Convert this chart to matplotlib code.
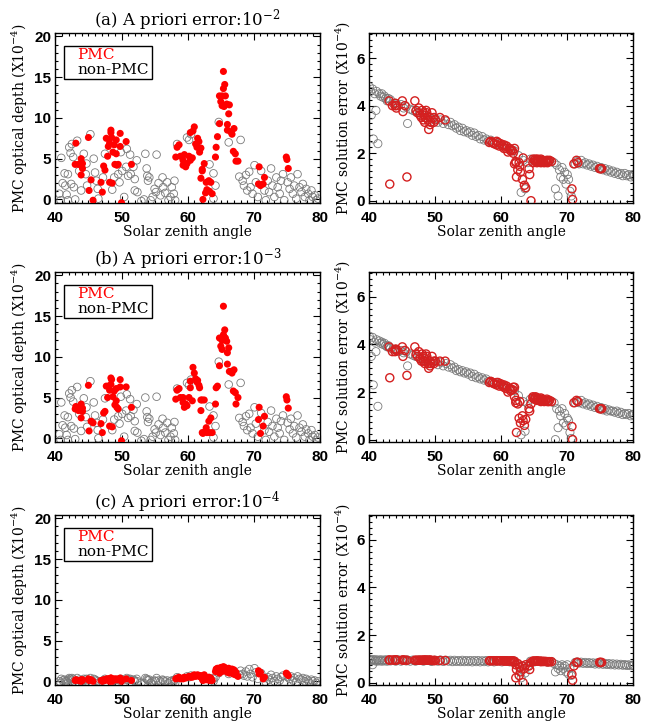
import numpy as np
import matplotlib
matplotlib.use('Agg')
import matplotlib.pyplot as plt
from matplotlib.ticker import MultipleLocator
from matplotlib.patches import Rectangle

plt.rcParams['font.family'] = 'DejaVu Serif'
plt.rcParams['mathtext.fontset'] = 'dejavuserif'

# --- PMC observations (same solar zenith angles in every panel) ---
pmc_sza = [43.0, 43.1, 43.5, 43.9, 43.9, 44.1, 44.1, 45.0, 45.1, 45.4,
           45.7, 46.9, 47.1, 47.3, 47.5, 47.7, 47.9, 48.0, 48.2, 48.2,
           48.4, 48.4, 48.5, 48.6, 48.7, 48.9, 49.0, 49.2, 49.2, 49.3,
           49.5, 49.8, 49.8, 50.0, 50.7, 51.5, 58.2, 58.4, 58.7, 58.9,
           59.3, 59.3, 59.5, 59.7, 59.9, 60.2, 60.4, 60.4, 60.7, 60.8,
           61.0, 61.2, 61.4, 61.5, 61.7, 61.8, 62.0, 62.0, 62.2, 62.2,
           62.3, 62.5, 62.7, 62.8, 62.9, 63.2, 63.3, 63.5, 63.7, 64.2,
           64.3, 64.5, 64.8, 64.8, 65.0, 65.2, 65.2, 65.4, 65.4, 65.5,
           65.6, 65.7, 65.9, 66.0, 66.0, 66.2, 66.3, 66.5, 66.7, 66.9,
           67.0, 67.2, 67.3, 67.6, 70.7, 70.8, 71.0, 71.4, 71.6, 74.9,
           75.0, 75.2]

pmc_tau_a = [4.3, 6.9, 4.3, 5.0, 3.0, 4.4, 3.8, 7.6, 1.1, 2.4,
             -0.1, 2.1, 0.9, 4.1, 3.6, 7.5, 5.3, 6.5, 6.9, 2.1,
             8.2, 8.5, 7.6, 2.0, 5.8, 6.7, 4.3, 5.6, 7.3, 4.2,
             4.3, 8.1, 6.5, -0.4, 7.1, 4.3, 5.2, 6.4, 6.7, 5.3,
             4.8, 4.2, 5.5, 4.0, 4.4, 5.3, 4.8, 8.2, 5.1, 8.4,
             8.9, 6.8, 6.4, 7.5, 7.1, 5.8, 6.3, 2.6, 3.7, 3.5,
             0.0, 4.4, 0.8, 2.1, 1.2, 2.3, 1.0, 2.1, 0.7, 5.2,
             6.4, 7.7, 12.7, 9.3, 12.0, 12.7, 11.5, 15.7, 13.6, 11.4,
             14.1, 12.7, 11.7, 9.2, 8.5, 10.5, 11.6, 8.3, 8.0, 5.9,
             8.7, 5.6, 4.7, 4.7, 1.9, 4.0, 1.7, 1.9, 2.7, 5.2,
             4.9, 3.8]

pmc_tau_b = [3.6, 3.9, 3.4, 4.2, 2.5, 3.3, 3.7, 6.5, 0.9, 2.1,
             1.9, 1.8, 0.7, 3.1, 3.3, 6.4, 5.0, 6.4, 5.9, 1.5,
             7.4, 6.6, 7.2, 1.4, 5.1, 5.8, 4.1, 4.6, 6.1, 3.8,
             3.6, 7.2, 6.3, -0.3, 6.3, 3.8, 4.8, 5.9, 6.1, 5.0,
             5.0, 4.4, 3.8, 4.2, 4.0, 5.0, 6.2, 7.0, 4.6, 8.7,
             8.0, 7.3, 6.9, 7.1, 6.5, 6.2, 4.7, 3.4, 0.7, 4.7,
             0.6, 4.7, 0.9, 1.3, 0.7, 2.1, 0.7, 2.5, 0.7, 4.2,
             6.2, 6.4, 12.3, 8.9, 11.3, 10.9, 12.0, 16.2, 12.7, 12.4,
             13.3, 12.3, 11.9, 9.1, 10.5, 11.1, 8.2, 8.2, 8.0, 5.8,
             8.4, 5.6, 4.2, 5.0, 2.3, 3.8, 0.6, 1.5, 2.7, 5.1,
             4.7, 3.7]

pmc_tau_c = [0.1, 0.2, 0.1, 0.2, 0.0, 0.1, 0.2, 0.3, 0.1, 0.2,
             0.0, 0.1, 0.0, 0.2, 0.1, 0.3, 0.2, 0.3, 0.3, 0.0,
             0.4, 0.4, 0.3, 0.0, 0.2, 0.3, 0.2, 0.2, 0.3, 0.2,
             0.2, 0.4, 0.3, 0.0, 0.3, 0.1, 0.3, 0.4, 0.5, 0.3,
             0.4, 0.3, 0.5, 0.4, 0.5, 0.6, 0.5, 0.6, 0.5, 0.7,
             0.8, 0.6, 0.7, 0.8, 0.7, 0.6, 0.7, 0.5, 0.3, 0.6,
             0.1, 0.8, 0.2, 0.4, 0.2, 0.5, 0.1, 0.4, 0.1, 1.2,
             1.5, 1.6, 1.4, 1.0, 1.7, 1.5, 1.2, 1.8, 1.6, 1.3,
             1.7, 1.4, 1.5, 1.1, 1.2, 1.6, 1.0, 1.3, 1.5, 0.9,
             1.4, 0.8, 1.1, 0.6, 1.3, 0.9, 1.1, 0.3, 0.5, 1.0,
             0.9, 0.7]

pmc_err_a = [4.2, 0.7, 4.0, 4.1, 4.0, 3.9, 4.0, 4.2, 3.75, 4.0,
             1.0, 4.2, 3.8, 3.7, 3.9, 3.6, 3.5, 3.8, 3.7, 3.4,
             3.6, 3.3, 3.5, 3.8, 3.7, 3.4, 3.0, 3.2, 3.5, 3.3,
             3.7, 3.5, 3.3, 3.4, 3.5, 3.4, 2.45, 2.5, 2.45, 2.4,
             2.5, 2.35, 2.45, 2.3, 2.4, 2.3, 2.2, 2.35, 2.2, 2.3,
             2.05, 2.2, 2.1, 2.15, 2.1, 2.0, 1.55, 2.2, 1.6, 1.65,
             1.0, 1.3, 1.6, 1.45, 1.2, 0.9, 1.8, 0.65, 0.55, 1.35,
             1.1, 0.0, 1.6, 1.75, 1.7, 1.65, 1.75, 1.7, 1.6, 1.75,
             1.7, 1.65, 1.7, 1.6, 1.75, 1.65, 1.7, 1.6, 1.65, 1.7,
             1.6, 1.65, 1.7, 1.65, 0.5, 0.05, 1.55, 1.7, 1.6, 1.35,
             1.35, 1.35]

pmc_err_b = [3.9, 2.6, 3.7, 3.8, 3.7, 3.75, 3.8, 3.9, 3.5, 3.75,
             2.7, 3.9, 3.6, 3.5, 3.7, 3.4, 3.3, 3.6, 3.5, 3.3,
             3.4, 3.2, 3.3, 3.6, 3.5, 3.2, 3.0, 3.1, 3.3, 3.2,
             3.5, 3.3, 3.2, 3.3, 3.3, 3.3, 2.4, 2.45, 2.4, 2.35,
             2.4, 2.3, 2.4, 2.25, 2.35, 2.25, 2.2, 2.3, 2.15, 2.25,
             2.0, 2.15, 2.05, 2.1, 2.1, 2.2, 1.8, 2.2, 1.55, 1.65,
             0.3, 1.5, 0.9, 1.6, 0.7, 1.0, 0.8, 0.6, 0.85, 1.3,
             1.2, 1.5, 1.8, 1.75, 1.7, 1.8, 1.75, 1.7, 1.65, 1.75,
             1.7, 1.65, 1.7, 1.6, 1.75, 1.65, 1.7, 1.6, 1.65, 1.7,
             1.6, 1.6, 1.65, 1.6, 0.55, 0.0, 1.55, 1.65, 1.6, 1.3,
             1.3, 1.3]

pmc_err_c = [0.95, 0.95, 0.95, 0.95, 0.95, 0.95, 0.95, 0.95, 0.95, 0.95,
             0.94, 0.94, 0.94, 0.94, 0.94, 0.94, 0.94, 0.94, 0.94, 0.94,
             0.94, 0.94, 0.94, 0.94, 0.94, 0.94, 0.94, 0.94, 0.94, 0.94,
             0.93, 0.93, 0.93, 0.93, 0.93, 0.93, 0.92, 0.92, 0.92, 0.92,
             0.92, 0.92, 0.92, 0.92, 0.92, 0.92, 0.92, 0.91, 0.91, 0.91,
             0.91, 0.91, 0.91, 0.91, 0.91, 0.91, 0.85, 0.9, 0.2, 0.75,
             0.55, 0.8, 0.3, 0.65, 0.45, 0.7, 0.0, 0.6, 0.75, 0.7,
             0.55, 0.85, 0.9, 0.9, 0.9, 0.9, 0.9, 0.9, 0.9, 0.9,
             0.9, 0.9, 0.89, 0.89, 0.89, 0.89, 0.89, 0.89, 0.89, 0.88,
             0.88, 0.88, 0.88, 0.88, 0.35, 0.1, 0.7, 0.85, 0.85, 0.85,
             0.85, 0.85]

# --- non-PMC observations, optical depth panels ---
non_sza = [40.6, 40.8, 40.9, 41.1, 41.4, 41.5, 41.7, 41.9, 41.9, 42.1,
           42.3, 42.4, 42.5, 42.7, 42.8, 43.0, 43.3, 43.6, 43.9, 44.3,
           44.6, 44.7, 44.8, 45.3, 45.8, 46.0, 46.2, 46.4, 46.5, 47.2,
           47.5, 48.6, 48.9, 49.5, 49.7, 49.9, 50.1, 50.4, 50.7, 50.8,
           51.0, 51.3, 51.4, 51.8, 52.0, 52.0, 52.3, 52.4, 53.0, 53.4,
           53.6, 53.8, 53.9, 54.0, 54.2, 54.4, 54.7, 55.0, 55.2, 55.3,
           55.6, 55.9, 56.2, 56.3, 56.6, 56.9, 57.1, 57.4, 57.6, 57.9,
           58.0, 58.1, 58.4, 59.9, 60.2, 60.5, 63.3, 63.9, 63.9, 64.2,
           64.7, 66.2, 67.8, 68.0, 68.3, 68.5, 68.8, 69.0, 69.3, 69.5,
           69.8, 70.1, 70.3, 70.6, 71.1, 71.6, 71.8, 72.1, 72.3, 72.6,
           72.8, 73.1, 73.4, 73.6, 73.9, 74.1, 74.4, 74.6, 75.1, 75.4,
           75.6, 75.9, 76.1, 76.4, 76.6, 76.9, 77.2, 77.4, 77.7, 77.9,
           78.2, 78.4, 78.7, 78.9, 79.2, 79.4, 79.7]

non_tau_a = [0.7, -0.1, 5.1, 2.0, 3.2, 1.7, 0.6, -0.1, 3.1, 6.4,
             5.7, 1.9, 6.8, 5.2, 1.5, 0.0, 7.2, 3.5, 1.1, 5.6,
             3.1, 4.4, 1.7, 8.0, 5.0, 3.3, 2.3, 1.3, 0.1, 2.7,
             5.6, 1.2, 2.7, 3.1, 2.1, 5.8, 3.5, 0.3, 4.0, 6.2,
             2.9, 5.5, 3.1, 4.0, 2.5, 1.1, 4.8, 0.9, -0.2, 0.0,
             5.6, 3.8, 2.9, 2.3, 2.7, -0.1, 0.3, 1.3, 0.9, 5.5,
             2.0, 0.5, 2.7, 1.5, 0.8, 2.1, -0.1, 0.3, 1.5, 0.7,
             2.3, -0.1, 6.8, 7.6, 7.3, 8.0, 4.3, 3.2, 0.1, 1.7,
             9.5, 7.0, 2.8, 7.3, 2.3, 1.7, 3.0, 1.1, 3.4, 1.5,
             0.7, 4.2, 2.1, 0.3, 3.5, 1.1, -0.1, 2.3, 0.9, 3.8,
             1.7, 0.3, 2.7, 1.5, 0.7, 2.3, 3.1, -0.1, 2.1, 1.3,
             2.7, 0.7, 1.7, 0.1, 3.1, 1.5, 0.9, 1.9, 0.3, 1.3,
             0.7, -0.1, 1.1, 0.3, 0.5, -0.1, 0.1]

non_tau_b = [0.5, -0.2, 4.4, 1.6, 2.8, 1.3, 0.4, -0.2, 2.6, 5.5,
             5.0, 1.5, 5.9, 4.5, 1.2, -0.1, 6.3, 3.0, 0.9, 4.9,
             2.6, 3.8, 1.4, 7.0, 4.4, 2.8, 1.9, 1.0, 0.0, 2.3,
             4.9, 1.0, 2.3, 2.7, 1.8, 5.1, 3.0, 0.2, 3.4, 5.4,
             2.5, 4.8, 2.7, 3.5, 2.1, 0.9, 4.2, 0.7, -0.3, -0.1,
             5.0, 3.3, 2.6, 2.0, 2.4, -0.2, 0.2, 1.1, 0.7, 5.1,
             1.7, 0.4, 2.4, 1.3, 0.7, 1.9, -0.2, 0.2, 1.3, 0.6,
             2.0, -0.2, 6.1, 6.8, 6.5, 7.2, 3.9, 2.8, 0.1, 1.5,
             9.4, 6.6, 2.5, 6.8, 2.0, 1.5, 2.7, 1.0, 3.0, 1.3,
             0.6, 3.8, 1.8, 0.2, 3.1, 1.0, -0.2, 2.0, 0.8, 3.4,
             1.5, 0.2, 2.4, 1.3, 0.6, 2.1, 2.8, -0.2, 1.9, 1.1,
             2.4, 0.6, 1.5, 0.1, 2.8, 1.3, 0.8, 1.7, 0.2, 1.1,
             0.6, -0.2, 1.0, 0.2, 0.4, -0.2, 0.1]

non_tau_c = [0.0, -0.2, 0.3, 0.1, 0.2, 0.0, 0.0, -0.2, 0.2, 0.4,
             0.3, 0.1, 0.4, 0.3, 0.0, -0.2, 0.4, 0.2, 0.0, 0.3,
             0.2, 0.3, 0.0, 0.4, 0.3, 0.2, 0.1, 0.0, -0.2, 0.1,
             0.3, 0.0, 0.1, 0.2, 0.1, 0.3, 0.2, -0.1, 0.2, 0.4,
             0.2, 0.3, 0.2, 0.2, 0.1, 0.0, 0.3, 0.0, -0.2, -0.2,
             0.4, 0.3, 0.2, 0.1, 0.2, -0.2, 0.0, 0.1, 0.0, 0.4,
             0.1, 0.0, 0.2, 0.1, 0.0, 0.1, -0.2, 0.0, 0.1, 0.0,
             0.2, -0.2, 0.5, 0.6, 0.5, 0.7, 0.4, 0.3, 0.0, 0.5,
             1.0, 0.9, 0.8, 1.3, 0.9, 0.7, 1.2, 0.6, 1.5, 0.9,
             0.5, 1.6, 1.1, 0.3, 1.0, 0.4, -0.1, 0.5, 0.2, 0.8,
             0.4, 0.0, 0.6, 0.3, 0.1, 0.5, 0.7, -0.2, 0.5, 0.3,
             0.6, 0.1, 0.4, -0.1, 0.6, 0.3, 0.2, 0.4, 0.0, 0.3,
             0.1, -0.2, 0.2, 0.0, 0.1, -0.2, 0.0]

# --- non-PMC observations, solution error panels ---
band_sza = [40.0, 40.2, 40.3, 40.5, 40.6, 40.8, 41.0, 41.1, 41.3, 41.5,
            41.7, 41.9, 42.1, 42.3, 42.5, 42.7, 42.9, 43.2, 43.6, 44.0,
            44.4, 44.8, 45.2, 45.6, 45.8, 46.2, 46.6, 47.0, 47.6, 48.2,
            48.8, 49.4, 50.0, 50.4, 50.8, 51.2, 51.6, 52.0, 52.3, 52.6,
            52.9, 53.2, 53.5, 53.8, 54.1, 54.4, 54.7, 55.0, 55.3, 55.6,
            55.9, 56.2, 56.5, 56.8, 57.1, 57.4, 57.7, 58.0, 58.4, 58.9,
            59.5, 60.1, 60.7, 61.3, 62.0, 62.6, 63.0, 63.3, 63.6, 64.0,
            64.4, 65.0, 66.0, 67.0, 67.6, 68.0, 68.2, 68.4, 68.6, 68.8,
            69.0, 69.2, 69.4, 69.6, 69.8, 70.0, 70.2, 70.4, 70.6, 71.2,
            71.5, 71.8, 72.1, 72.4, 72.7, 73.0, 73.3, 73.6, 73.9, 74.2,
            74.5, 74.8, 75.1, 75.4, 75.7, 76.0, 76.3, 76.6, 76.9, 77.2,
            77.5, 77.8, 78.1, 78.4, 78.7, 79.0, 79.3, 79.6, 79.9, 80.0]

band_err_a = [4.8, 4.6, 3.6, 4.7, 2.6, 4.5, 3.8, 4.6, 2.4, 4.5,
              4.4, 4.5, 4.35, 4.4, 4.3, 4.2, 4.3, 4.25, 4.1, 4.1,
              4.0, 4.05, 3.9, 3.95, 3.25, 3.85, 3.8, 3.75, 3.7, 3.6,
              3.55, 3.4, 3.45, 3.3, 3.4, 3.25, 3.35, 3.2, 3.3, 3.15,
              3.2, 3.05, 3.1, 2.95, 3.05, 2.9, 2.95, 2.85, 2.9, 2.75,
              2.85, 2.7, 2.75, 2.6, 2.7, 2.55, 2.6, 2.5, 2.55, 2.4,
              2.4, 2.35, 2.3, 2.2, 2.1, 1.9, 0.35, 1.7, 0.5, 1.6,
              1.75, 1.75, 1.7, 1.7, 1.65, 1.6, 0.5, 1.5, 0.2, 1.3,
              1.0, 1.4, 0.9, 1.2, 0.7, 1.1, 0.9, 0.4, 0.2, 1.55,
              1.65, 1.55, 1.7, 1.55, 1.6, 1.5, 1.55, 1.45, 1.5, 1.4,
              1.45, 1.35, 1.4, 1.3, 1.35, 1.25, 1.3, 1.2, 1.25, 1.15,
              1.2, 1.1, 1.15, 1.05, 1.15, 1.05, 1.1, 1.0, 1.1, 1.05]

band_err_b = [4.35, 4.2, 3.5, 4.3, 2.3, 4.1, 3.7, 4.2, 1.4, 4.15,
              4.05, 4.1, 4.0, 4.05, 3.95, 3.9, 3.95, 3.85, 3.8, 3.8,
              3.7, 3.75, 3.65, 3.7, 3.1, 3.6, 3.55, 3.5, 3.45, 3.35,
              3.35, 3.2, 3.3, 3.15, 3.25, 3.1, 3.2, 3.05, 3.15, 3.0,
              3.05, 2.9, 2.95, 2.85, 2.9, 2.8, 2.85, 2.75, 2.8, 2.65,
              2.75, 2.6, 2.65, 2.55, 2.6, 2.5, 2.55, 2.45, 2.45, 2.35,
              2.35, 2.3, 2.25, 2.15, 2.05, 1.85, 0.2, 1.6, 0.35, 1.5,
              1.7, 1.75, 1.7, 1.65, 1.6, 1.55, 0.0, 1.3, 0.5, 1.2,
              1.0, 1.3, 0.7, 1.1, 0.6, 0.9, 0.8, 0.3, 0.05, 1.55,
              1.6, 1.55, 1.65, 1.5, 1.55, 1.45, 1.5, 1.4, 1.45, 1.35,
              1.4, 1.3, 1.35, 1.25, 1.3, 1.2, 1.25, 1.2, 1.2, 1.15,
              1.2, 1.1, 1.15, 1.05, 1.1, 1.05, 1.1, 1.0, 1.05, 1.05]

band_err_c = [0.98, 0.92, 0.95, 0.75, 0.97, 0.92, 0.96, 0.9, 0.95, 0.91,
              0.96, 0.9, 0.95, 0.91, 0.96, 0.9, 0.95, 0.91, 0.95, 0.9,
              0.96, 0.9, 0.95, 0.91, 0.95, 0.9, 0.95, 0.9, 0.95, 0.9,
              0.95, 0.89, 0.94, 0.9, 0.95, 0.89, 0.94, 0.9, 0.94, 0.88,
              0.94, 0.89, 0.93, 0.88, 0.94, 0.88, 0.93, 0.88, 0.93, 0.87,
              0.93, 0.88, 0.93, 0.87, 0.92, 0.88, 0.93, 0.87, 0.92, 0.87,
              0.92, 0.87, 0.92, 0.87, 0.9, 0.75, 0.2, 0.55, 0.4, 0.7,
              0.9, 0.87, 0.9, 0.86, 0.88, 0.8, 0.45, 0.75, 0.6, 0.7,
              0.5, 0.75, 0.6, 0.7, 0.45, 0.75, 0.35, 0.6, 0.3, 0.85,
              0.87, 0.82, 0.86, 0.81, 0.85, 0.8, 0.84, 0.8, 0.83, 0.78,
              0.83, 0.78, 0.82, 0.77, 0.81, 0.76, 0.8, 0.75, 0.79, 0.74,
              0.78, 0.74, 0.77, 0.73, 0.76, 0.72, 0.75, 0.71, 0.74, 0.72]

titles = ['(a) A priori error:10$^{-2}$',
          '(b) A priori error:10$^{-3}$',
          '(c) A priori error:10$^{-4}$']

rows = [(pmc_tau_a, non_tau_a, pmc_err_a, band_err_a),
        (pmc_tau_b, non_tau_b, pmc_err_b, band_err_b),
        (pmc_tau_c, non_tau_c, pmc_err_c, band_err_c)]

row_bottoms = [0.721, 0.3929, 0.0591]
row_h = 0.2335

tick_font = dict(family='Liberation Sans', weight='bold', size=11)
gray = '#7a7a7a'


def style_axes(ax, ymajor, yminor):
  ax.xaxis.set_major_locator(MultipleLocator(10))
  ax.xaxis.set_minor_locator(MultipleLocator(1))
  ax.yaxis.set_major_locator(MultipleLocator(ymajor))
  ax.yaxis.set_minor_locator(MultipleLocator(yminor))
  ax.tick_params(which='both', direction='in', top=True, right=True, width=0.8)
  ax.tick_params(axis='x', pad=6)
  ax.tick_params(axis='y', pad=3)
  ax.tick_params(which='major', length=5)
  ax.tick_params(which='minor', length=2.5)
  for lab in ax.get_xticklabels() + ax.get_yticklabels():
    lab.set_fontfamily(tick_font['family'])
    lab.set_fontweight(tick_font['weight'])
    lab.set_fontsize(tick_font['size'])
  for sp in ax.spines.values():
    sp.set_linewidth(1.0)
  ax.set_xlabel('Solar zenith angle', fontsize=10, labelpad=0)


fig = plt.figure(figsize=(6.51, 7.28), dpi=100)

for i in range(3):
  tau_p, tau_n, err_p, err_n = rows[i]

  # left: optical depth
  ax = fig.add_axes([0.085, row_bottoms[i], 0.4066, row_h])
  ax.scatter(non_sza, tau_n, s=30, facecolors='none', edgecolors=gray, linewidths=0.6, zorder=2)
  ax.scatter(pmc_sza, tau_p, s=26, color='#ff0000', edgecolors='none', zorder=3)
  ax.set_xlim(40, 80)
  ax.set_ylim(-0.45, 20.4)
  style_axes(ax, 5, 1)
  ax.set_ylabel('PMC optical depth (X10$^{-4}$)', fontsize=10, labelpad=3)
  ax.set_title(titles[i], fontsize=12, pad=5)
  ax.add_patch(Rectangle((0.033, 0.729), 0.332, 0.195, transform=ax.transAxes,
                         fill=False, edgecolor='black', linewidth=1.0, zorder=4))
  ax.text(0.082, 0.87, 'PMC', color='red', fontsize=11, va='center', transform=ax.transAxes)
  ax.text(0.082, 0.782, 'non-PMC', color='black', fontsize=11, va='center', transform=ax.transAxes)

  # right: solution error
  ax2 = fig.add_axes([0.5673, row_bottoms[i], 0.4055, row_h])
  ax2.scatter(band_sza, err_n, s=34, facecolors='none', edgecolors=gray, linewidths=0.6, zorder=2)
  ax2.scatter(pmc_sza, err_p, s=34, facecolors='none', edgecolors='#d42020', linewidths=1.0, zorder=3)
  ax2.set_xlim(40, 80)
  ax2.set_ylim(-0.1, 7.05)
  style_axes(ax2, 2, 0.25)
  ax2.set_ylabel('PMC solution error (X10$^{-4}$)', fontsize=10, labelpad=3)

fig.savefig('out.png', dpi=100)
